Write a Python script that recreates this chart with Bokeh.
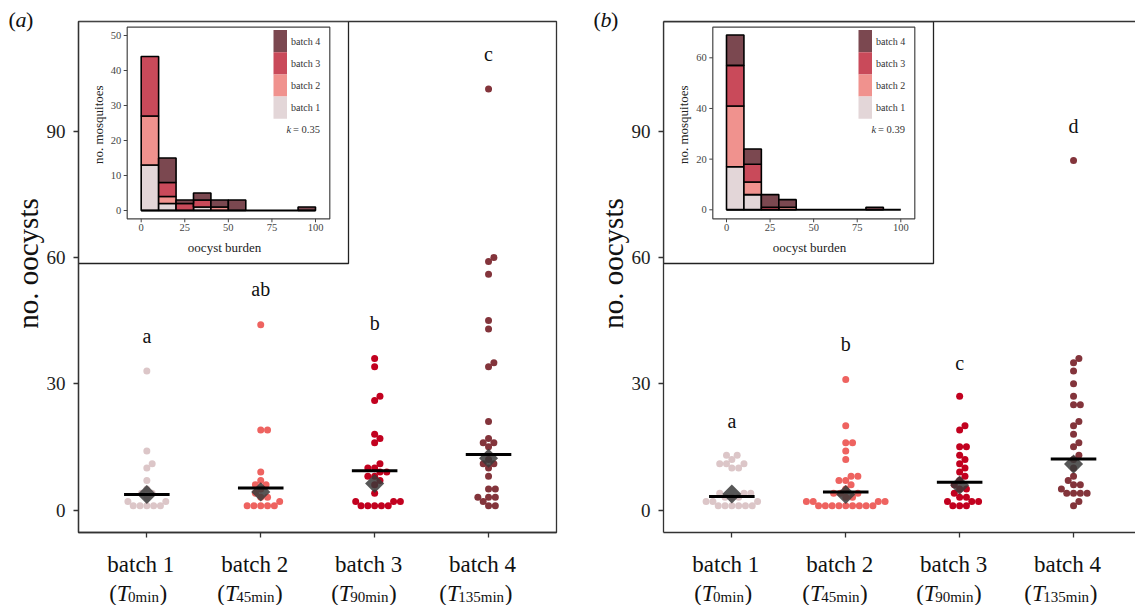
import numpy as np
from bokeh.plotting import figure
from bokeh.models import Range1d, LinearAxis, FixedTicker, GridBox
from bokeh.embed import file_html
from bokeh.resources import INLINE
from bokeh.core.properties import value

SERIF = "Liberation Serif"

# ---------------- data ----------------
CATEGORIES = ["batch 1", "batch 2", "batch 3", "batch 4"]
TIME_SUBSCRIPTS = ["0min", "45min", "90min", "135min"]
POINT_COLORS = ["#dcc6c8", "#ee6360", "#c2011f", "#83343b"]
HIST_COLORS = ["#e3d6d8", "#f0928e", "#c94a5a", "#7b4850"]
HIST_EDGES = [0, 10, 20, 30, 40, 50, 60, 70, 80, 90, 100]
MAIN_Y_TICKS = [0, 30, 60, 90]
INSET_X_TICKS = [0, 25, 50, 75, 100]
Y_TITLE = "no. oocysts"

# panel (a): oocysts per mosquito
A_BATCH1 = [33, 14, 11, 10, 7, 5, 4, 4, 3, 2, 2, 1, 1, 1, 1, 1]
A_BATCH2 = [44, 19, 19, 9, 7, 6, 6, 5, 4, 3, 3, 2, 1, 1, 1, 1, 1]
A_BATCH3 = [36, 34, 27, 26, 18, 17, 16, 11, 10, 10, 9, 9, 8, 8, 7, 6, 4,
            2, 2, 2, 1, 1, 1, 1, 1]
A_BATCH4 = [100, 60, 59, 56, 45, 43, 35, 34, 21, 17, 16, 16, 15, 12, 11, 11,
            10, 8, 5, 5, 3, 3, 3, 2, 1, 1]
A_MEDIAN = [3.7, 5.2, 9.3, 13.2]
A_MEAN = [3.7, 4.3, 6.3, 12.3]
A_LETTERS = ["a", "ab", "b", "c"]
A_LETTER_Y = [41.3, 52.4, 44.3, 108.2]
A_HIST_B1 = [13, 2, 0, 1, 0, 0, 0, 0, 0, 0]
A_HIST_B2 = [14, 2, 0, 0, 1, 0, 0, 0, 0, 0]
A_HIST_B3 = [17, 4, 2, 2, 0, 0, 0, 0, 0, 0]
A_HIST_B4 = [0, 7, 1, 2, 2, 3, 0, 0, 0, 1]
A_INSET_Y_TICKS = [0, 10, 20, 30, 40, 50]
A_K = "0.35"

# panel (b)
B_BATCH1 = [13, 13, 12, 11, 11, 11, 10, 10, 4, 4, 4, 3, 3, 3, 2, 2, 2,
            1, 1, 1, 1, 1, 1]
B_BATCH2 = [31, 20, 16, 16, 14, 12, 8, 8, 7, 7, 6, 5, 4, 4, 4, 3, 3,
            2, 2, 2, 2, 1, 1, 1, 1, 1, 1, 1, 1, 1]
B_BATCH3 = [27, 20, 19, 15, 15, 13, 12, 11, 10, 9, 8, 7, 6, 5, 5, 4, 3, 3,
            2, 2, 2, 1, 1, 1]
B_BATCH4 = [83, 36, 35, 33, 30, 27, 25, 25, 21, 20, 18, 16, 15, 13, 12, 10,
            8, 7, 6, 6, 5, 4, 4, 4, 4, 2, 1]
B_MEDIAN = [3.2, 4.3, 6.6, 12.1]
B_MEAN = [3.8, 3.7, 5.9, 10.9]
B_LETTERS = ["a", "b", "c", "d"]
B_LETTER_Y = [21.1, 39.4, 35.0, 91.2]
B_HIST_B1 = [17, 6, 0, 0, 0, 0, 0, 0, 0, 0]
B_HIST_B2 = [24, 5, 0, 1, 0, 0, 0, 0, 0, 0]
B_HIST_B3 = [16, 7, 1, 0, 0, 0, 0, 0, 0, 0]
B_HIST_B4 = [12, 6, 5, 3, 0, 0, 0, 0, 1, 0]
B_INSET_Y_TICKS = [0, 20, 40, 60]
B_K = "0.39"

# ---------------- layout geometry (page pixels) ----------------
PAGE_H = 605
FRAME_TOP = 21
FRAME_BOTTOM = 532
Y0_PX = 509.5
Y_PER = 4.21
X_PER = 113.9
X_START = 0.4
Y_TOP = (Y0_PX - FRAME_TOP) / Y_PER
Y_BOT = (Y0_PX - FRAME_BOTTOM) / Y_PER
DOT_D = 6.8
BASELINE_FIX = 7  # alphabetic baseline correction in the overlay


def swarm_offsets(vals, ppx, ppy, d=DOT_D):
    vals = np.asarray(vals, dtype=float)
    order = np.argsort(vals, kind="stable")
    placed = []
    offs = np.zeros(len(vals))
    for idx in order:
        y = vals[idx] * ppy
        cands = [0.0]
        for (px, py) in placed:
            dy = abs(py - y)
            if dy < d:
                dx = np.sqrt(d * d - dy * dy)
                cands += [px + dx, px - dx]
        cands = sorted(set(cands), key=lambda c: (round(abs(c), 6), -c))
        chosen = cands[-1]
        for c in cands:
            if all((c - px) ** 2 + (y - py) ** 2 >= d * d - 1e-6 for px, py in placed):
                chosen = c
                break
        placed.append((chosen, y))
        offs[idx] = chosen / ppx
    return offs


def text_w(s, em):
    w = {"m": 0.778, "i": 0.278, "n": 0.5}
    return sum(0.5 if ch.isdigit() else w.get(ch, 0.5) for ch in s) * em


def build_panel(cfg):
    fig_left, fig_w = cfg["fig_left"], cfg["fig_w"]
    frame_l, frame_r = cfg["frame_l"], cfg["frame_r"]
    x_end = X_START + (frame_r - frame_l) / X_PER

    p = figure(width=fig_w, height=PAGE_H,
               x_range=Range1d(X_START, x_end), y_range=Range1d(Y_BOT, Y_TOP),
               output_backend="svg", toolbar_location=None,
               x_axis_type=None, y_axis_type=None,
               min_border_left=frame_l - fig_left,
               min_border_right=fig_left + fig_w - frame_r,
               min_border_top=FRAME_TOP, min_border_bottom=PAGE_H - FRAME_BOTTOM)
    p.frame_align = False
    p.xgrid.visible = False
    p.ygrid.visible = False
    p.background_fill_color = "white"
    p.border_fill_color = "white"
    if cfg["full_outline"]:
        p.outline_line_color = "#333333"
        p.outline_line_width = 1.3
    else:
        p.outline_line_color = None

    axis_style = dict(axis_line_color="#333333", axis_line_width=1.3,
                      major_tick_line_color="#333333", major_tick_line_width=1.3,
                      minor_tick_out=0, minor_tick_in=0, major_tick_in=0)
    yax = LinearAxis(ticker=FixedTicker(ticks=MAIN_Y_TICKS),
                     major_label_text_font=SERIF, major_label_text_font_size="19px",
                     major_label_text_color="#222222", major_label_standoff=8,
                     major_tick_out=5, **axis_style)
    p.add_layout(yax, "left")
    xax = LinearAxis(ticker=FixedTicker(ticks=[1, 2, 3, 4]),
                     major_label_text_color=None, major_tick_out=5, **axis_style)
    p.add_layout(xax, "below")
    if not cfg["full_outline"]:
        tax = LinearAxis(ticker=FixedTicker(ticks=[]), major_tick_out=0, **axis_style)
        p.add_layout(tax, "above")

    cats = np.arange(1, len(CATEGORIES) + 1)

    # points
    for i, vals in enumerate(cfg["groups"]):
        offs = swarm_offsets(vals, X_PER, Y_PER)
        p.scatter(x=cats[i] + offs, y=vals, size=7, marker="circle",
                  fill_color=POINT_COLORS[i], line_color=None)
    # mean diamonds
    p.scatter(x=cats, y=cfg["mean"], marker="square", angle=np.pi / 4, size=13.5,
              fill_color="#3a3a3a", fill_alpha=0.85, line_color=None)
    # median bars
    p.segment(x0=cats - 0.2, x1=cats + 0.2, y0=cfg["median"], y1=cfg["median"],
              line_color="black", line_width=3)
    # significance letters
    p.text(x=cats, y=cfg["letter_y"], text=cfg["letters"], text_font=value(SERIF),
           text_font_size="20px", text_align="center", text_baseline="middle",
           text_color="#111111")

    # ---------------- inset histogram ----------------
    ins = cfg["inset"]
    ppx_i = (ins["x100_px"] - ins["x0_px"]) / 100.0
    ppy_i = (ins["y0_px"] - ins["yref_px"]) / ins["yref_val"]

    def fx(px):
        return (px - ins["x0_px"]) / ppx_i

    def fy(py):
        return (ins["y0_px"] - py) / ppy_i

    p.extra_x_ranges = {"ix": Range1d(fx(frame_l), fx(frame_r))}
    p.extra_y_ranges = {"iy": Range1d(fy(FRAME_BOTTOM), fy(FRAME_TOP))}
    kw = dict(x_range_name="ix", y_range_name="iy")

    p.quad(left=[fx(frame_l)], right=[fx(ins["outer_r"])], top=[fy(FRAME_TOP)],
           bottom=[fy(ins["outer_b"])], fill_color="white", line_color="#222222",
           line_width=1.3, **kw)
    al, at, ar, ab = ins["axes"]
    p.quad(left=[fx(al)], right=[fx(ar)], top=[fy(at)], bottom=[fy(ab)],
           fill_color=None, line_color="#444444", line_width=1.2, **kw)

    edges = np.array(HIST_EDGES, dtype=float)
    cum = np.zeros(len(edges) - 1)
    for i, counts in enumerate(cfg["hist"]):
        cnt = np.array(counts, dtype=float)
        m = cnt > 0
        p.quad(left=edges[:-1][m], right=edges[1:][m], bottom=cum[m], top=(cum + cnt)[m],
               fill_color=HIST_COLORS[i], line_color="black", line_width=1.6, **kw)
        cum = cum + cnt
    p.segment(x0=[edges[0]], x1=[edges[-1]], y0=[0], y1=[0], line_color="black",
              line_width=2, **kw)

    yt = cfg["inset_y_ticks"]
    p.segment(x0=[fx(al)] * len(yt), x1=[fx(al - 3.5)] * len(yt), y0=yt, y1=yt,
              line_color="#444444", line_width=1, **kw)
    p.text(x=[fx(al - 6)] * len(yt), y=yt, text=[str(t) for t in yt],
           text_font=value(SERIF), text_font_size="10.5px", text_align="right",
           text_baseline="middle", text_color="#444444", **kw)
    xt = INSET_X_TICKS
    p.segment(x0=xt, x1=xt, y0=[fy(ab)] * len(xt), y1=[fy(ab + 3.5)] * len(xt),
              line_color="#444444", line_width=1, **kw)
    p.text(x=xt, y=[fy(ab + 5.5)] * len(xt), text=[str(t) for t in xt],
           text_font=value(SERIF), text_font_size="10.5px", text_align="center",
           text_baseline="top", text_color="#444444", **kw)
    p.text(x=[fx(frame_l + 146)], y=[fy(247.3)], text=["oocyst burden"],
           text_font=value(SERIF), text_font_size="13px", text_align="center",
           text_baseline="middle", text_color="#222222", **kw)
    p.text(x=[fx(frame_l + 19.7)], y=[fy(124.2)], text=["no. mosquitoes"],
           text_font=value(SERIF), text_font_size="13px", text_align="center",
           text_baseline="middle", text_color="#222222", angle=np.pi / 2, **kw)

    # legend
    for j in range(4):
        bi = 3 - j
        top_px = 29.5 + 22.2 * j
        p.quad(left=[fx(frame_l + 195)], right=[fx(frame_l + 208.5)], top=[fy(top_px)],
               bottom=[fy(top_px + 22.2)], fill_color=HIST_COLORS[bi], line_color=None, **kw)
        p.text(x=[fx(frame_l + 212.5)], y=[fy(top_px + 11.1)], text=[CATEGORIES[bi]],
               text_font=value(SERIF), text_font_size="10px", text_align="left",
               text_baseline="middle", text_color="#333333", **kw)
    p.text(x=[fx(frame_l + 208)], y=[fy(129.3)], text=["k"], text_font=value(SERIF),
           text_font_size="10.5px", text_font_style="italic", text_align="left",
           text_baseline="middle", text_color="#333333", **kw)
    p.text(x=[fx(frame_l + 214.5)], y=[fy(129.3)], text=["= " + cfg["k"]],
           text_font=value(SERIF), text_font_size="10.5px", text_align="left",
           text_baseline="middle", text_color="#333333", **kw)

    # ---------------- transparent overlay for texts outside the frame ----------------
    def xd(px):
        return X_START + (px - frame_l) / X_PER

    o = figure(width=fig_w, height=PAGE_H,
               x_range=Range1d(xd(fig_left), xd(fig_left + fig_w)),
               y_range=Range1d(0, PAGE_H),
               output_backend="svg", toolbar_location=None,
               x_axis_type=None, y_axis_type=None,
               min_border_left=0, min_border_right=0, min_border_top=0, min_border_bottom=0)
    o.frame_align = False
    o.xgrid.visible = False
    o.ygrid.visible = False
    o.outline_line_color = None
    o.background_fill_color = None
    o.border_fill_color = None

    def yo(py):
        return PAGE_H - py

    # y-axis title
    o.text(x=[xd(frame_l - 51)], y=[yo(263)], text=[Y_TITLE], text_font=value(SERIF),
           text_font_size="29px", text_align="center", text_baseline="middle",
           text_color="#111111", angle=np.pi / 2)

    M, S = 23, 15
    # category names (first line)
    o.text(x=cats, y=[yo(571 - BASELINE_FIX)] * len(cats), x_offset=-6, text=CATEGORIES,
           text_font=value(SERIF), text_font_size=f"{M}px", text_align="center",
           text_baseline="alphabetic", text_color="#111111")
    # sampling time (second line)
    base = yo(600 - BASELINE_FIX)
    sub_base = yo(603.5 - BASELINE_FIX)
    for i, sub in enumerate(TIME_SUBSCRIPTS):
        c = float(cats[i])
        sw = text_w(sub, S)
        total = (0.333 * 2 + 0.556) * M + sw
        shift = -(M - S) * (sw / S) / 2
        x0 = -total / 2 + shift
        common = dict(text_font=value(SERIF), text_align="left",
                      text_baseline="alphabetic", text_color="#111111")
        o.text(x=[c], y=[base], x_offset=x0, text=["("], text_font_size=f"{M}px", **common)
        o.text(x=[c], y=[base], x_offset=x0 + 0.333 * M, text=["T"],
               text_font_size=f"{M}px", text_font_style="italic", **common)
        o.text(x=[c], y=[sub_base], x_offset=x0 + (0.333 + 0.556) * M - 1.5, text=[sub],
               text_font_size=f"{S}px", **common)
        o.text(x=[c], y=[base], x_offset=x0 + (0.333 + 0.556) * M - 1 + sw,
               text=[")"], text_font_size=f"{M}px", **common)

    tx = cfg["tag_px"]
    ty = yo(26 - BASELINE_FIX)
    common = dict(text_font=value(SERIF), text_font_size="22px", text_align="left",
                  text_baseline="alphabetic", text_color="#111111")
    o.text(x=[xd(tx)], y=[ty], text=["("], **common)
    o.text(x=[xd(tx + 7)], y=[ty], text=[cfg["tag"]], text_font_style="italic", **common)
    o.text(x=[xd(tx + 7 + 10.5)], y=[ty], text=[")"], **common)
    return p, o


cfg_a = dict(fig_left=0, fig_w=585, frame_l=78, frame_r=556, full_outline=True,
             groups=[A_BATCH1, A_BATCH2, A_BATCH3, A_BATCH4], mean=A_MEAN, median=A_MEDIAN,
             letters=A_LETTERS, letter_y=A_LETTER_Y,
             hist=[A_HIST_B1, A_HIST_B2, A_HIST_B3, A_HIST_B4],
             inset_y_ticks=A_INSET_Y_TICKS, k=A_K, tag="a", tag_px=8,
             inset=dict(outer_r=348, outer_b=263, axes=(126.7, 26.7, 329.3, 218.3),
                        x0_px=140.7, x100_px=315.0, y0_px=210.0, yref_px=35.0, yref_val=50))
cfg_b = dict(fig_left=585, fig_w=550, frame_l=663, frame_r=1135, full_outline=False,
             groups=[B_BATCH1, B_BATCH2, B_BATCH3, B_BATCH4], mean=B_MEAN, median=B_MEDIAN,
             letters=B_LETTERS, letter_y=B_LETTER_Y,
             hist=[B_HIST_B1, B_HIST_B2, B_HIST_B3, B_HIST_B4],
             inset_y_ticks=B_INSET_Y_TICKS, k=B_K, tag="b", tag_px=593,
             inset=dict(outer_r=933, outer_b=263, axes=(712.3, 26.7, 914.3, 218.3),
                        x0_px=726.0, x100_px=900.3, y0_px=209.3, yref_px=57.3, yref_val=60))

pa, oa = build_panel(cfg_a)
pb, ob = build_panel(cfg_b)
layout = GridBox(children=[(pa, 0, 0), (pb, 0, 1), (oa, 0, 0), (ob, 0, 1)])
open("out.html", "w").write(file_html(layout, INLINE))
